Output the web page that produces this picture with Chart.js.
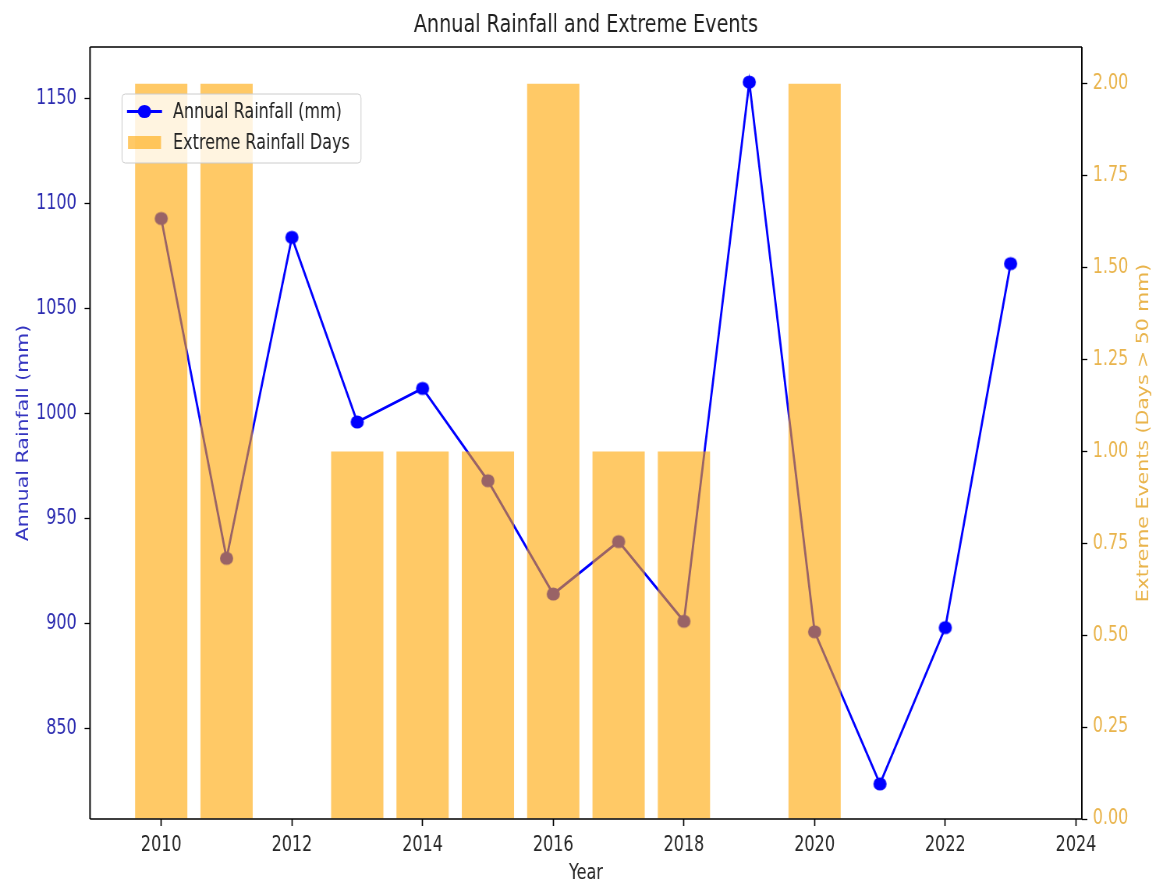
<!DOCTYPE html>
<html>
<head>
<meta charset="utf-8">
<title>Annual Rainfall and Extreme Events</title>
<script src="https://cdn.jsdelivr.net/npm/chart.js@4.4.1/dist/chart.umd.min.js"></script>
<style>
  html, body { margin: 0; padding: 0; background: #fff; overflow: hidden; }
  /* the reference is squeezed sideways, so draw wide and squeeze */
  #wrap { width: 1478px; height: 881px; transform: scaleX(0.78); transform-origin: 0 0; }
</style>
</head>
<body>
<div id="wrap"><canvas id="rainChart" width="1478" height="881"></canvas></div>
<script>
var years = [2010, 2011, 2012, 2013, 2014, 2015, 2016, 2017, 2018, 2019, 2020, 2021, 2022, 2023];
var rainfall = [1093, 931, 1084, 996, 1012, 968, 914, 939, 901, 1158, 896, 823.5, 898, 1071.5];
var extremeDays = [2, 2, 0, 1, 1, 1, 2, 1, 1, 0, 2, 0, 0, 0];

var yearTicks = [2010, 2012, 2014, 2016, 2018, 2020, 2022, 2024];
var rainTicks = [850, 900, 950, 1000, 1050, 1100, 1150];
var dayTicks = [0, 0.25, 0.5, 0.75, 1, 1.25, 1.5, 1.75, 2];

var SX = 0.78;
var FONT = 'DejaVu Sans';
var BLUE = '#0000ff';
var BAR = 'rgba(255,165,0,0.6)';
var GOLD = '#e9b44c';
var DAYS_TITLE = 'Extreme Events (Days > 50 mm)';

// matplotlib style 5% margins
function margin(lo, hi) {
    var m = (hi - lo) * 0.05;
    return [lo - m, hi + m];
}
var xRange = margin(Math.min.apply(null, years) - 0.4, Math.max.apply(null, years) + 0.4);
var rainRange = margin(Math.min.apply(null, rainfall), Math.max.apply(null, rainfall));
var dayMax = Math.max.apply(null, extremeDays) * 1.05;

// round marker that stays round after the squeeze
function dot(r, color) {
    var c = document.createElement('canvas');
    var rx = r / SX;
    c.width = Math.ceil(rx * 2) + 2;
    c.height = Math.ceil(r * 2) + 2;
    var g = c.getContext('2d');
    g.fillStyle = color;
    g.beginPath();
    g.ellipse(c.width / 2, c.height / 2, rx, r, 0, 0, Math.PI * 2);
    g.fill();
    return c;
}

function ticksFrom(list) {
    return function(scale) {
        scale.ticks = list.map(function(v) { return {value: v}; });
    };
}

var frame = {
    id: 'frame',
    afterDatasetsDraw: function(chart) {
        var a = chart.chartArea, ctx = chart.ctx;
        ctx.save();
        ctx.strokeStyle = '#000';
        ctx.lineWidth = 1.5;
        ctx.beginPath();
        ctx.moveTo(a.left, a.top); ctx.lineTo(a.right, a.top);
        ctx.moveTo(a.left, a.bottom); ctx.lineTo(a.right, a.bottom);
        ctx.stroke();
        ctx.lineWidth = 1.5 / SX;
        ctx.beginPath();
        ctx.moveTo(a.left, a.top); ctx.lineTo(a.left, a.bottom);
        ctx.moveTo(a.right, a.top); ctx.lineTo(a.right, a.bottom);
        ctx.stroke();

        // right axis label reads bottom to top, like matplotlib
        ctx.translate(1148 / SX, (a.top + a.bottom) / 2);
        ctx.rotate(-Math.PI / 2);
        ctx.fillStyle = GOLD;
        ctx.font = '20.5px "' + FONT + '"';
        ctx.textAlign = 'center';
        ctx.textBaseline = 'alphabetic';
        ctx.fillText(DAYS_TITLE, 0, 0);
        ctx.restore();
    }
};

var legendBox = {
    id: 'legendBox',
    afterDraw: function(chart) {
        var ctx = chart.ctx;
        var ds = chart.data.datasets;
        var x0 = 122 / SX, x1 = 361 / SX, y0 = 94, y1 = 163;
        ctx.save();
        ctx.beginPath();
        ctx.roundRect(x0, y0, x1 - x0, y1 - y0, 4);
        ctx.fillStyle = 'rgba(255,255,255,0.8)';
        ctx.fill();
        ctx.strokeStyle = '#cccccc';
        ctx.lineWidth = 1;
        ctx.stroke();

        // line entry
        ctx.strokeStyle = BLUE;
        ctx.lineWidth = 2.8;
        ctx.beginPath();
        ctx.moveTo(127 / SX, 111.5);
        ctx.lineTo(162 / SX, 111.5);
        ctx.stroke();
        ctx.fillStyle = BLUE;
        ctx.beginPath();
        ctx.ellipse(144.5 / SX, 111.5, 6.6 / SX, 6.6, 0, 0, Math.PI * 2);
        ctx.fill();

        // bar entry
        ctx.fillStyle = BAR;
        ctx.fillRect(128 / SX, 136, 33 / SX, 13);

        ctx.fillStyle = '#222';
        ctx.font = '20.5px "' + FONT + '"';
        ctx.textBaseline = 'alphabetic';
        ctx.fillText(ds[0].label, 173 / SX, 118);
        ctx.fillText(ds[1].label, 173 / SX, 149);
        ctx.restore();
    }
};

var ctxRain = document.getElementById('rainChart').getContext('2d');

var rainChart = new Chart(ctxRain, {
    type: 'bar',
    plugins: [frame, legendBox],
    data: {
        datasets: [{
            type: 'line',
            label: 'Annual Rainfall (mm)',
            data: years.map(function(y, i) { return {x: y, y: rainfall[i]}; }),
            yAxisID: 'y',
            borderColor: BLUE,
            backgroundColor: BLUE,
            borderWidth: 2.8,
            tension: 0,
            fill: false,
            pointStyle: dot(6.6, BLUE),
            pointRadius: 6,
            order: 1
        }, {
            type: 'bar',
            label: 'Extreme Rainfall Days',
            data: years.map(function(y, i) { return {x: y, y: extremeDays[i]}; }),
            yAxisID: 'y1',
            backgroundColor: BAR,
            borderWidth: 0,
            categoryPercentage: 1,
            barPercentage: 0.8,
            order: 0
        }]
    },
    options: {
        responsive: false,
        animation: false,
        events: [],
        layout: { padding: 0 },
        plugins: {
            legend: { display: false },
            tooltip: { enabled: false },
            title: {
                display: true,
                text: 'Annual Rainfall and Extreme Events',
                fullSize: false,
                color: '#1f1f1f',
                font: { family: FONT, size: 24.6, weight: 'normal', lineHeight: 1.2 },
                padding: { top: 11, bottom: 6.5 }
            }
        },
        scales: {
            x: {
                type: 'linear',
                min: xRange[0],
                max: xRange[1],
                offset: false,
                afterBuildTicks: ticksFrom(yearTicks),
                afterFit: function(s) { s.height = 62; },
                grid: { display: true, drawOnChartArea: false, drawTicks: true, tickLength: 7,
                        tickWidth: 1.3 / SX, tickColor: '#000', offset: false },
                border: { display: false },
                ticks: {
                    color: '#262626', padding: 7, maxRotation: 0, autoSkip: false,
                    font: { family: FONT, size: 20.5 },
                    callback: function(v) { return String(v); }
                },
                title: {
                    display: true, text: 'Year', color: '#262626',
                    font: { family: FONT, size: 20.5, lineHeight: 1 },
                    padding: { top: 0, bottom: -3 }
                }
            },
            y: {
                type: 'linear',
                position: 'left',
                min: rainRange[0],
                max: rainRange[1],
                afterBuildTicks: ticksFrom(rainTicks),
                afterFit: function(s) { s.width = 90 / SX; },
                grid: { display: true, drawOnChartArea: false, drawTicks: true, tickLength: 7,
                        tickWidth: 1.3, tickColor: '#000' },
                border: { display: false },
                ticks: {
                    color: '#2b2bb0', padding: 10, autoSkip: false,
                    font: { family: FONT, size: 20.5 },
                    callback: function(v) { return String(v); }
                },
                title: {
                    display: true, text: 'Annual Rainfall (mm)', color: '#3535c0',
                    font: { family: FONT, size: 20.5, lineHeight: 1 },
                    padding: { top: 20, bottom: 0 }
                }
            },
            y1: {
                type: 'linear',
                position: 'right',
                min: 0,
                max: dayMax,
                afterBuildTicks: ticksFrom(dayTicks),
                afterFit: function(s) { s.width = (1153 - 1082) / SX; },
                grid: { display: true, drawOnChartArea: false, drawTicks: true, tickLength: 7,
                        tickWidth: 1.3, tickColor: '#000' },
                border: { display: false },
                ticks: {
                    color: GOLD, padding: 7, autoSkip: false,
                    font: { family: FONT, size: 20.5 },
                    callback: function(v) { return v.toFixed(2); }
                },
                title: { display: false }
            }
        }
    }
});
</script>
</body>
</html>
